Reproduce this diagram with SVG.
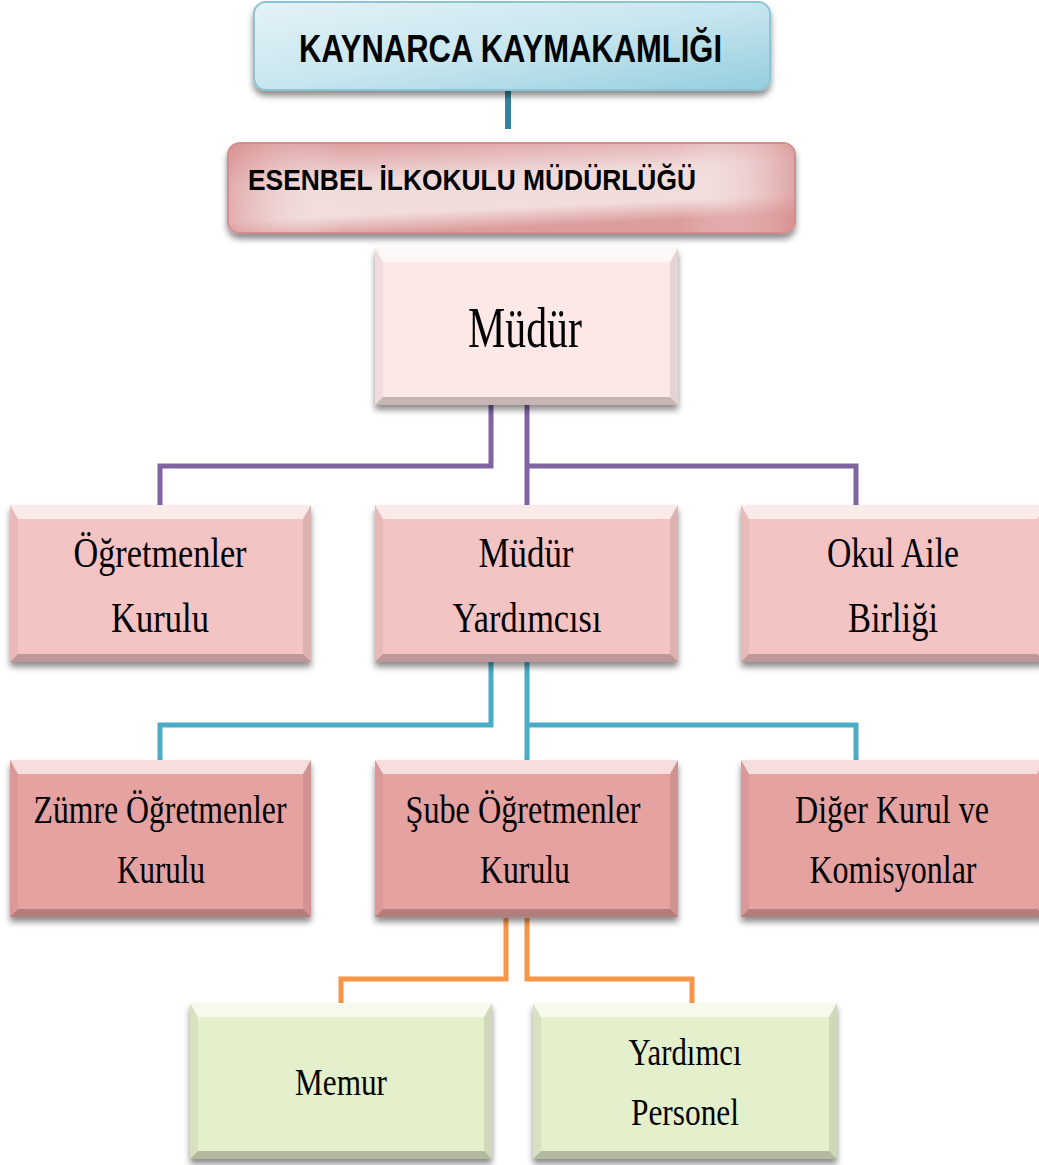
<svg xmlns="http://www.w3.org/2000/svg" width="1039" height="1165" viewBox="0 0 1039 1165">
<defs>
<filter id="sh" x="-10%" y="-10%" width="120%" height="130%">
<feDropShadow dx="0" dy="5" stdDeviation="3" flood-color="#000" flood-opacity="0.45"/>
</filter>
<linearGradient id="gBlue" x1="0" y1="0" x2="1" y2="1">
<stop offset="0" stop-color="#e4f2f7"/>
<stop offset="0.5" stop-color="#c8e6ef"/>
<stop offset="1" stop-color="#94cedd"/>
</linearGradient>
<linearGradient id="gRed" x1="0" y1="0" x2="0.3" y2="1">
<stop offset="0" stop-color="#db9797"/>
<stop offset="0.45" stop-color="#f0d9d9"/>
<stop offset="0.8" stop-color="#f2dcdc"/>
<stop offset="1" stop-color="#dc9d9d"/>
</linearGradient>
<linearGradient id="gRedH" x1="0" y1="0" x2="1" y2="0">
<stop offset="0" stop-color="#d88d8d" stop-opacity="0.6"/>
<stop offset="0.2" stop-color="#fff" stop-opacity="0"/>
<stop offset="0.8" stop-color="#fff" stop-opacity="0"/>
<stop offset="1" stop-color="#d88d8d" stop-opacity="0.7"/>
</linearGradient>
</defs>
<style>
.hdr{font-family:"Liberation Sans",Arial,sans-serif;font-weight:bold;fill:#000}
.lbl{font-family:"Liberation Serif","Times New Roman",serif;fill:#000;text-anchor:middle}
.bt{fill:#fff;opacity:0.65}
.bb{fill:#000;opacity:0.22}
.bl{fill:#000;opacity:0.05}
.br{fill:#000;opacity:0.09}
.c{fill:none;stroke-width:5;stroke-linejoin:miter}
.cp{stroke:#8064a2}
.ct{stroke:#4bacc6}
.co{stroke:#f79646}
</style>

<g id="connectors">
<line x1="508" y1="88" x2="508" y2="129" stroke="#31859c" stroke-width="6"/>
<polyline class="c cp" points="491,405 491,466 160,466 160,506"/>
<polyline class="c cp" points="527,405 527,506"/>
<polyline class="c cp" points="527,466 856,466 856,506"/>
<polyline class="c ct" points="491,662 491,725 160,725 160,761"/>
<polyline class="c ct" points="527,662 527,761"/>
<polyline class="c ct" points="527,725 856,725 856,761"/>
<polyline class="c co" points="506,918 506,979 341,979 341,1004"/>
<polyline class="c co" points="527,918 527,979 692,979 692,1004"/>
</g>

<g id="kaymakamlik">
<rect x="254" y="2" width="516" height="88" rx="12" fill="url(#gBlue)" stroke="#8cc4d4" stroke-width="2" filter="url(#sh)"/>
<text class="hdr" x="299" y="62" font-size="38" textLength="423" lengthAdjust="spacingAndGlyphs">KAYNARCA KAYMAKAMLIĞI</text>
</g>

<g id="mudurluk">
<rect x="228" y="143" width="567" height="90" rx="12" fill="url(#gRed)" stroke="#d28e8e" stroke-width="2" filter="url(#sh)"/>
<rect x="229" y="144" width="565" height="88" rx="11" fill="url(#gRedH)"/>
<text class="hdr" x="248" y="190" font-size="30" textLength="448" lengthAdjust="spacingAndGlyphs">ESENBEL İLKOKULU MÜDÜRLÜĞÜ</text>
</g>

<g id="mudur">
<rect x="375" y="248" width="303" height="157" fill="#fde8e8" filter="url(#sh)"/>
<polygon class="bt" points="375,248 678,248 670,262 383,262"/>
<polygon class="bb" points="375,405 678,405 670,397 383,397"/>
<polygon class="bl" points="375,248 383,262 383,397 375,405"/>
<polygon class="br" points="678,248 670,262 670,397 678,405"/>
<text class="lbl" x="525" y="347" font-size="56" textLength="114" lengthAdjust="spacingAndGlyphs">Müdür</text>
</g>

<g id="ogretmenler-kurulu">
<rect x="10" y="505" width="301" height="157" fill="#f4c3c3" filter="url(#sh)"/>
<polygon class="bt" points="10,505 311,505 303,519 18,519"/>
<polygon class="bb" points="10,662 311,662 303,654 18,654"/>
<polygon class="bl" points="10,505 18,519 18,654 10,662"/>
<polygon class="br" points="311,505 303,519 303,654 311,662"/>
<text class="lbl" x="160" y="567" font-size="42" textLength="173" lengthAdjust="spacingAndGlyphs">Öğretmenler</text>
<text class="lbl" x="160" y="632" font-size="42" textLength="98" lengthAdjust="spacingAndGlyphs">Kurulu</text>
</g>

<g id="mudur-yardimcisi">
<rect x="375" y="505" width="303" height="157" fill="#f4c3c3" filter="url(#sh)"/>
<polygon class="bt" points="375,505 678,505 670,519 383,519"/>
<polygon class="bb" points="375,662 678,662 670,654 383,654"/>
<polygon class="bl" points="375,505 383,519 383,654 375,662"/>
<polygon class="br" points="678,505 670,519 670,654 678,662"/>
<text class="lbl" x="526" y="567" font-size="42" textLength="95" lengthAdjust="spacingAndGlyphs">Müdür</text>
<text class="lbl" x="527" y="632" font-size="42" textLength="149" lengthAdjust="spacingAndGlyphs">Yardımcısı</text>
</g>

<g id="okul-aile-birligi">
<rect x="741" y="505" width="304" height="157" fill="#f4c3c3" filter="url(#sh)"/>
<polygon class="bt" points="741,505 1045,505 1037,519 749,519"/>
<polygon class="bb" points="741,662 1045,662 1037,654 749,654"/>
<polygon class="bl" points="741,505 749,519 749,654 741,662"/>
<text class="lbl" x="893" y="567" font-size="42" textLength="132" lengthAdjust="spacingAndGlyphs">Okul Aile</text>
<text class="lbl" x="893" y="632" font-size="42" textLength="90" lengthAdjust="spacingAndGlyphs">Birliği</text>
</g>

<g id="zumre-ogretmenler-kurulu">
<rect x="10" y="760" width="301" height="157" fill="#e6a1a1" filter="url(#sh)"/>
<polygon class="bt" points="10,760 311,760 303,774 18,774"/>
<polygon class="bb" points="10,917 311,917 303,909 18,909"/>
<polygon class="bl" points="10,760 18,774 18,909 10,917"/>
<polygon class="br" points="311,760 303,774 303,909 311,917"/>
<text class="lbl" x="160" y="823" font-size="40" textLength="253" lengthAdjust="spacingAndGlyphs">Zümre Öğretmenler</text>
<text class="lbl" x="161" y="883" font-size="40" textLength="88" lengthAdjust="spacingAndGlyphs">Kurulu</text>
</g>

<g id="sube-ogretmenler-kurulu">
<rect x="375" y="760" width="303" height="157" fill="#e6a1a1" filter="url(#sh)"/>
<polygon class="bt" points="375,760 678,760 670,774 383,774"/>
<polygon class="bb" points="375,917 678,917 670,909 383,909"/>
<polygon class="bl" points="375,760 383,774 383,909 375,917"/>
<polygon class="br" points="678,760 670,774 670,909 678,917"/>
<text class="lbl" x="523" y="823" font-size="40" textLength="235" lengthAdjust="spacingAndGlyphs">Şube Öğretmenler</text>
<text class="lbl" x="525" y="883" font-size="40" textLength="90" lengthAdjust="spacingAndGlyphs">Kurulu</text>
</g>

<g id="diger-kurul-ve-komisyonlar">
<rect x="741" y="760" width="304" height="157" fill="#e6a1a1" filter="url(#sh)"/>
<polygon class="bt" points="741,760 1045,760 1037,774 749,774"/>
<polygon class="bb" points="741,917 1045,917 1037,909 749,909"/>
<polygon class="bl" points="741,760 749,774 749,909 741,917"/>
<text class="lbl" x="892" y="823" font-size="40" textLength="194" lengthAdjust="spacingAndGlyphs">Diğer Kurul ve</text>
<text class="lbl" x="893" y="883" font-size="40" textLength="167" lengthAdjust="spacingAndGlyphs">Komisyonlar</text>
</g>

<g id="memur">
<rect x="190" y="1003" width="302" height="156" fill="#e4efcc" filter="url(#sh)"/>
<polygon class="bt" points="190,1003 492,1003 484,1017 198,1017"/>
<polygon class="bb" points="190,1159 492,1159 484,1151 198,1151"/>
<polygon class="bl" points="190,1003 198,1017 198,1151 190,1159"/>
<polygon class="br" points="492,1003 484,1017 484,1151 492,1159"/>
<text class="lbl" x="341" y="1095" font-size="38" textLength="92" lengthAdjust="spacingAndGlyphs">Memur</text>
</g>

<g id="yardimci-personel">
<rect x="533" y="1003" width="304" height="156" fill="#e4efcc" filter="url(#sh)"/>
<polygon class="bt" points="533,1003 837,1003 829,1017 541,1017"/>
<polygon class="bb" points="533,1159 837,1159 829,1151 541,1151"/>
<polygon class="bl" points="533,1003 541,1017 541,1151 533,1159"/>
<polygon class="br" points="837,1003 829,1017 829,1151 837,1159"/>
<text class="lbl" x="685" y="1065" font-size="38" textLength="113" lengthAdjust="spacingAndGlyphs">Yardımcı</text>
<text class="lbl" x="685" y="1125" font-size="38" textLength="108" lengthAdjust="spacingAndGlyphs">Personel</text>
</g>
</svg>
